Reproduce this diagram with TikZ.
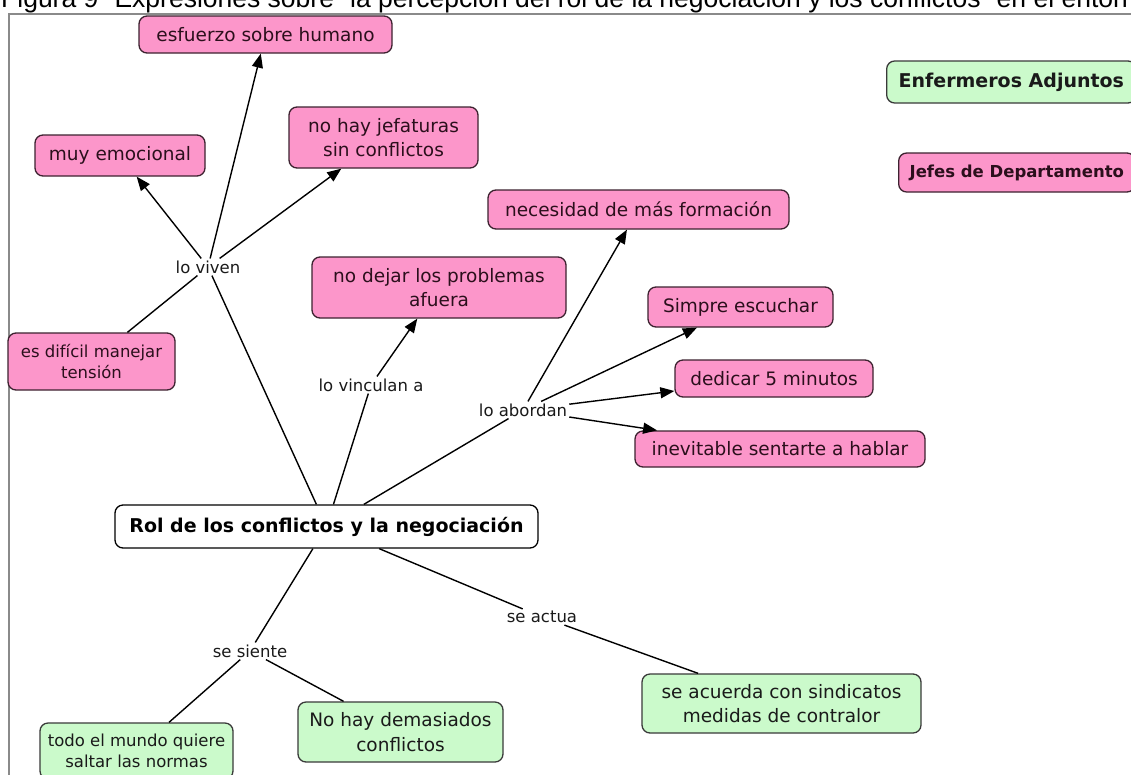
\documentclass[tikz,border=0pt]{standalone}
\usepackage{fontspec}
\setmainfont{DejaVu Sans}
\newfontfamily\capfont{Liberation Sans}
\usetikzlibrary{arrows.meta}
\definecolor{pinkfill}{HTML}{FC96CA}
\definecolor{pinkline}{HTML}{3D2230}
\definecolor{pinktext}{HTML}{2B0F1C}
\definecolor{greenfill}{HTML}{CBFACB}
\definecolor{greenline}{HTML}{3A3A3A}
\definecolor{greentext}{HTML}{1A1A1A}
\definecolor{linktext}{HTML}{1A1A1A}
\definecolor{framegray}{HTML}{8A8A8A}
\begin{document}
\begin{tikzpicture}[x=1pt,y=-1pt,
  box/.style={rounded corners=8pt, line width=1.3pt, align=center, inner sep=0pt,
    font=\fontsize{18.5}{24.5}\selectfont},
  pinkbox/.style={box, fill=pinkfill, draw=pinkline, text=pinktext},
  greenbox/.style={box, fill=greenfill, draw=greenline, text=greentext},
  smalltext/.style={font=\fontsize{16.5}{21}\selectfont},
  linkword/.style={font=\fontsize{16.5}{20}\selectfont, inner sep=2pt, text=linktext},
  conn/.style={line width=1.4pt, draw=black},
  arr/.style={conn, -{Triangle[length=14pt,width=11pt]}},
]
\useasboundingbox (0,0) rectangle (1131,774);
\clip (0,0) rectangle (1131,774);
\fill[white] (0,0) rectangle (1131,774);

% caption and frame
\node[anchor=base west, inner sep=0pt, font=\capfont\fontsize{26.5}{26.5}\selectfont]
  (caption) at (1,7.5) {Figura 9 “Expresiones sobre “la percepción del rol de la negociación y los conflictos” en el entorno};
\draw[framegray, line width=2.2pt] (9,800) |- (1140,14);

% central concept
\node[box, fill=white, draw=black, text=black, font=\bfseries\fontsize{19}{24}\selectfont,
  minimum width=423pt, minimum height=43pt] (rol) at (326.5,526.5) {Rol de los conflictos y la negociación};

% legend
\node[greenbox, anchor=west, inner xsep=12pt, minimum height=42pt, font=\bfseries\fontsize{19}{24}\selectfont]
  (adj) at (886,82) {Enfermeros Adjuntos};
\node[pinkbox, anchor=west, inner xsep=11pt, minimum height=39pt, font=\bfseries\fontsize{16.5}{21}\selectfont]
  (jefes) at (898,172.5) {Jefes de Departamento};

% concepts
\node[pinkbox, minimum width=253pt, minimum height=37pt] (esf) at (265.5,34.5) {esfuerzo sobre humano};
\node[pinkbox, minimum width=170pt, minimum height=41pt] (emo) at (120,155.5) {muy emocional};
\node[pinkbox, minimum width=189pt, minimum height=61pt] (jef) at (383.5,137.5) {no hay jefaturas\\sin conflictos};
\node[pinkbox, minimum width=301pt, minimum height=39pt] (nec) at (638.5,209.5) {necesidad de más formación};
\node[pinkbox, minimum width=254pt, minimum height=61pt] (dej) at (439,287.5) {no dejar los problemas\\afuera};
\node[pinkbox, minimum width=185pt, minimum height=40pt] (sim) at (740.5,307) {Simpre escuchar};
\node[pinkbox, smalltext, minimum width=167pt, minimum height=57pt] (dif) at (91.5,361.5) {es difícil manejar\\tensión};
\node[pinkbox, minimum width=198pt, minimum height=37pt] (ded) at (774,378.5) {dedicar 5 minutos};
\node[pinkbox, minimum width=290pt, minimum height=36pt] (inev) at (780,449) {inevitable sentarte a hablar};
\node[greenbox, minimum width=279pt, minimum height=59pt] (acu) at (781.5,703.5) {se acuerda con sindicatos\\medidas de contralor};
\node[greenbox, minimum width=205pt, minimum height=60pt] (nohay) at (400.5,732) {No hay demasiados\\conflictos};
\node[greenbox, smalltext, minimum width=193pt, minimum height=56pt] (todo) at (136.5,751) {todo el mundo quiere\\saltar las normas};

% linking phrases
\node[linkword] (viven) at (208,267) {lo viven};
\node[linkword] (vinc) at (371,385) {lo vinculan a};
\node[linkword] (abor) at (523,410) {lo abordan};
\node[linkword] (actua) at (542,617) {se actua};
\node[linkword] (siente) at (250,651) {se siente};

% connectors
\draw[conn] (rol) -- (viven);
\draw[arr] (viven) -- (esf);
\draw[arr] (viven) -- (emo);
\draw[arr] (viven) -- (jef);
\draw[conn] (dif) -- (viven);

\draw[conn] (rol) -- (vinc);
\draw[arr] (vinc) -- (dej);

\draw[conn] (rol) -- (abor);
\draw[arr] (abor) -- (nec);
\draw[arr] (abor) -- (sim);
\draw[arr] (abor) -- (ded);
\draw[arr] (abor) -- (inev);

\draw[conn] (rol) -- (actua);
\draw[conn] (actua) -- (acu);

\draw[conn] (rol) -- (siente);
\draw[conn] (siente) -- (todo);
\draw[conn] (siente) -- (nohay);
\end{tikzpicture}
\end{document}
